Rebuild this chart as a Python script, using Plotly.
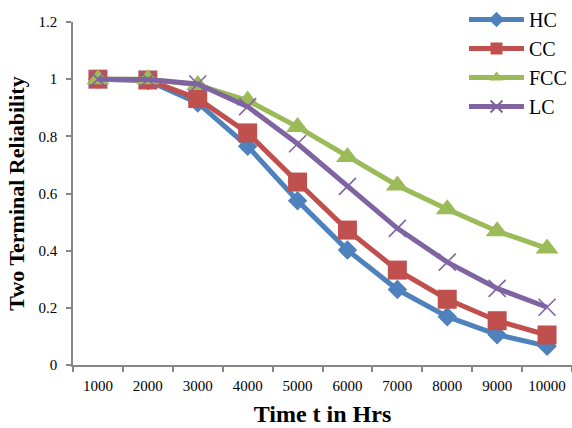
import plotly.graph_objects as go

categories = ["1000", "2000", "3000", "4000", "5000", "6000", "7000", "8000", "9000", "10000"]
hc = [1.0, 0.995, 0.917, 0.765, 0.575, 0.402, 0.264, 0.169, 0.106, 0.066]
cc = [1.0, 0.997, 0.932, 0.812, 0.640, 0.472, 0.332, 0.230, 0.155, 0.105]
fcc = [1.0, 1.0, 0.980, 0.925, 0.833, 0.728, 0.628, 0.545, 0.468, 0.408]
lc = [1.0, 0.999, 0.983, 0.904, 0.774, 0.625, 0.478, 0.360, 0.268, 0.202]
y_ticks = [0, 0.2, 0.4, 0.6, 0.8, 1, 1.2]
y_tick_text = ["0", "0.2", "0.4", "0.6", "0.8", "1", "1.2"]

FONT = "Liberation Serif, Times New Roman, serif"

series = [
    ("HC", hc, "#4F81BD", dict(symbol="diamond", size=15)),
    ("CC", cc, "#C0504D", dict(symbol="square", size=19)),
    ("FCC", fcc, "#9BBB59", dict(symbol="triangle-up", size=20)),
    ("LC", lc, "#8064A2", dict(symbol="x-thin-open", size=17, line=dict(width=1.6, color="#8064A2"))),
]

fig = go.Figure()
for name, vals, color, mk in series:
    m = dict(color=color)
    m.update(mk)
    fig.add_trace(go.Scatter(
        x=categories, y=vals, name=name, mode="lines+markers",
        line=dict(color=color, width=5), marker=m,
        legendgroup=name,
    ))

fig.update_layout(
    width=572, height=428,
    margin=dict(l=73, r=0, t=22, b=63),
    plot_bgcolor="white", paper_bgcolor="white",
    font=dict(family=FONT, color="black"),
    showlegend=True,
    legend=dict(
        x=1.0, xanchor="right", y=1.065, yanchor="top",
        font=dict(family=FONT, size=20, color="black"),
        bgcolor="rgba(0,0,0,0)", tracegroupgap=0, itemsizing="constant",
        itemwidth=55, traceorder="grouped",
    ),
    xaxis=dict(
        type="category", range=[-0.5, 9.5],
        showline=True, linecolor="#868686", linewidth=1.5,
        ticks="outside", tickson="boundaries", ticklen=5, tickcolor="#868686", tickwidth=1.5,
        tickfont=dict(family=FONT, size=15, color="black"),
        ticklabelstandoff=6,
        showgrid=False, zeroline=False,
        title=dict(text="<b>Time t in Hrs</b>", font=dict(family=FONT, size=24, color="black"), standoff=12),
    ),
    yaxis=dict(
        range=[0, 1.2], tickvals=y_ticks, ticktext=y_tick_text,
        showline=True, linecolor="#868686", linewidth=1.5,
        ticks="outside", ticklen=5, tickcolor="#868686", tickwidth=1.5,
        tickfont=dict(family=FONT, size=15, color="black"),
        ticklabelstandoff=6,
        showgrid=False, zeroline=False,
        title=dict(text="<b>Two Terminal Reliability</b>", font=dict(family=FONT, size=22, color="black"), standoff=8),
    ),
)

fig.write_html(
    "out.html",
    config={"displayModeBar": False},
    post_script="document.body.style.margin='0';document.body.style.overflow='hidden';",
)
